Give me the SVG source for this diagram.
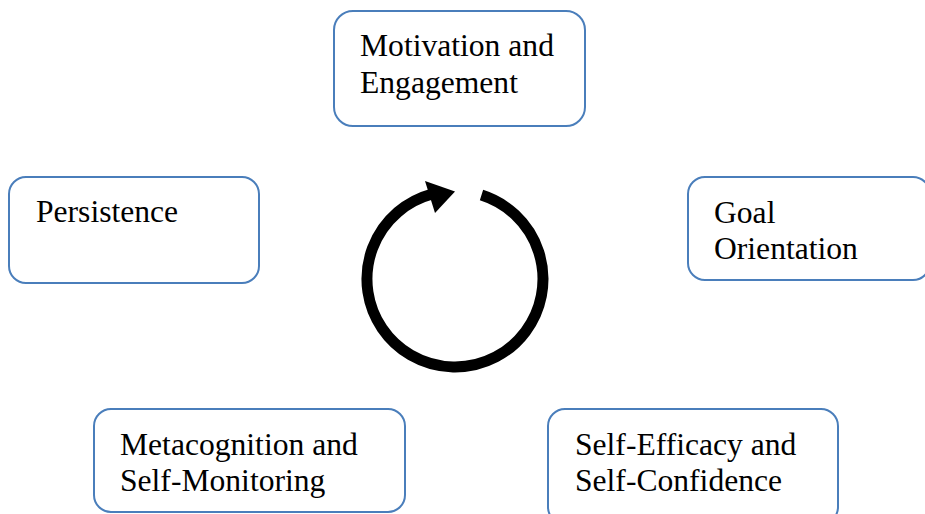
<svg xmlns="http://www.w3.org/2000/svg" width="925" height="514" viewBox="0 0 925 514">
<style>
.box{fill:#ffffff;stroke:#4a7ebb;stroke-width:2}
.t{font-family:"Liberation Serif","Times New Roman",serif;font-size:31.6px;fill:#000000}
</style>
<rect x="0" y="0" width="925" height="514" fill="#ffffff"/>
<g id="motivation">
<rect class="box" x="334" y="11" width="251" height="115" rx="19"/>
<text class="t" x="360" y="56">Motivation and</text>
<text class="t" x="360" y="93">Engagement</text>
</g>
<g id="goal">
<rect class="box" x="688" y="177" width="242" height="103" rx="17"/>
<text class="t" x="714" y="223">Goal</text>
<text class="t" x="714" y="259">Orientation</text>
</g>
<g id="persistence">
<rect class="box" x="9" y="177" width="250" height="106" rx="17"/>
<text class="t" x="36" y="222">Persistence</text>
</g>
<g id="metacognition">
<rect class="box" x="94" y="409" width="311" height="103" rx="17"/>
<text class="t" x="120" y="455">Metacognition and</text>
<text class="t" x="120" y="491">Self-Monitoring</text>
</g>
<g id="selfefficacy">
<rect class="box" x="548" y="409" width="290" height="115" rx="17"/>
<text class="t" x="575" y="455">Self-Efficacy and</text>
<text class="t" x="575" y="491">Self-Confidence</text>
</g>
<g id="connectors">
<path d="M481.5,195.1 A88,88 0 1 1 432.2,194" fill="none" stroke="#000000" stroke-width="11"/>
<polygon points="425,181 455,191.5 435,213" fill="#000000"/>
</g>
</svg>
